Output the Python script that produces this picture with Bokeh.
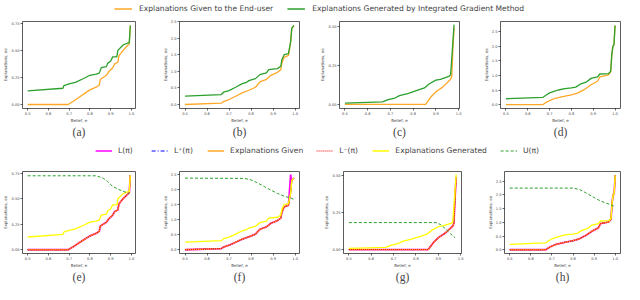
from bokeh.plotting import figure
from bokeh.models import (FixedTicker, NumeralTickFormatter, Title, Range1d,
                          Legend, LegendItem)
from bokeh.layouts import column, row
from bokeh.embed import file_html
from bokeh.resources import INLINE

# ---------------- data ----------------
xticks = [0.5, 0.6, 0.7, 0.8, 0.9, 1.0]

# panel A (a / e)
xa_gen = [0.5, 0.67, 0.675, 0.70, 0.73, 0.77, 0.80, 0.83, 0.845, 0.855, 0.88, 0.885, 0.90, 0.91, 0.93, 0.935, 0.96, 0.985, 0.99, 0.995]
ya_gen = [0.125, 0.15, 0.175, 0.19, 0.205, 0.24, 0.27, 0.28, 0.29, 0.34, 0.35, 0.38, 0.40, 0.44, 0.44, 0.50, 0.55, 0.57, 0.57, 0.73]
xa_giv = [0.5, 0.695, 0.72, 0.75, 0.78, 0.80, 0.83, 0.845, 0.85, 0.86, 0.88, 0.89, 0.91, 0.92, 0.935, 0.94, 0.96, 0.98, 0.99, 0.995]
ya_giv = [0.0, 0.0, 0.03, 0.07, 0.11, 0.135, 0.16, 0.18, 0.23, 0.245, 0.27, 0.30, 0.34, 0.375, 0.39, 0.45, 0.50, 0.54, 0.56, 0.73]
xa_U = [0.5, 0.83, 0.845, 0.865, 0.885, 0.91, 0.94, 0.965, 0.99]
ya_U = [0.725, 0.725, 0.715, 0.70, 0.67, 0.62, 0.59, 0.57, 0.55]

# panel B (b / f)
xb_gen = [0.5, 0.665, 0.675, 0.70, 0.73, 0.76, 0.78, 0.79, 0.82, 0.84, 0.87, 0.88, 0.92, 0.935, 0.94, 0.95, 0.97, 0.98, 0.985, 0.995]
yb_gen = [0.25, 0.30, 0.37, 0.42, 0.52, 0.63, 0.67, 0.72, 0.78, 0.90, 0.95, 1.05, 1.08, 1.15, 1.35, 1.50, 1.53, 1.90, 2.30, 2.38]
xb_giv = [0.5, 0.665, 0.675, 0.70, 0.73, 0.76, 0.79, 0.82, 0.84, 0.87, 0.89, 0.92, 0.935, 0.94, 0.95, 0.97, 0.98, 0.985, 0.995]
yb_giv = [0.0, 0.04, 0.09, 0.15, 0.25, 0.35, 0.43, 0.52, 0.68, 0.76, 0.88, 0.97, 1.05, 1.25, 1.42, 1.48, 1.90, 2.30, 2.38]
xb_L = [0.5, 0.665, 0.675, 0.70, 0.73, 0.76, 0.79, 0.82, 0.84, 0.87, 0.89, 0.92, 0.935, 0.94, 0.95, 0.97, 0.98, 0.982, 0.995]
yb_L = [0.0, 0.04, 0.09, 0.15, 0.25, 0.35, 0.43, 0.52, 0.68, 0.76, 0.88, 0.97, 1.05, 1.25, 1.42, 1.48, 2.50, 2.30, 2.38]
xb_U = [0.5, 0.77, 0.80, 0.83, 0.86, 0.89, 0.92, 0.95, 0.98, 0.995]
yb_U = [2.38, 2.37, 2.32, 2.22, 2.10, 1.98, 1.87, 1.78, 1.72, 1.67]

# panel C (c / g)
xc_gen = [0.5, 0.665, 0.69, 0.72, 0.74, 0.78, 0.82, 0.85, 0.87, 0.90, 0.92, 0.96, 0.965, 0.975, 0.98]
yc_gen = [0.008, 0.015, 0.03, 0.04, 0.055, 0.07, 0.09, 0.105, 0.13, 0.155, 0.16, 0.18, 0.19, 0.40, 0.51]
xc_giv = [0.5, 0.855, 0.88, 0.90, 0.93, 0.965, 0.97, 0.975, 0.98]
yc_giv = [0.0, 0.0, 0.05, 0.08, 0.11, 0.16, 0.18, 0.35, 0.49]
xc_U = [0.5, 0.89, 0.91, 0.933, 0.955, 0.975]
yc_U = [0.183, 0.183, 0.17, 0.14, 0.107, 0.08]

# panel D (d / h)
xd_gen = [0.5, 0.67, 0.685, 0.70, 0.72, 0.74, 0.77, 0.80, 0.82, 0.84, 0.87, 0.89, 0.92, 0.93, 0.97, 0.98, 0.985, 0.99, 0.995, 1.0]
yd_gen = [0.20, 0.25, 0.33, 0.40, 0.45, 0.50, 0.55, 0.57, 0.60, 0.70, 0.78, 0.90, 0.95, 1.05, 1.06, 1.15, 1.70, 2.00, 2.05, 2.72]
xd_giv = [0.5, 0.67, 0.69, 0.72, 0.76, 0.80, 0.83, 0.86, 0.89, 0.92, 0.93, 0.97, 0.98, 0.985, 0.99, 0.995, 1.0]
yd_giv = [0.0, 0.0, 0.10, 0.20, 0.27, 0.33, 0.40, 0.52, 0.68, 0.80, 0.95, 1.02, 1.12, 1.70, 2.00, 2.05, 2.72]
xd_U = [0.5, 0.80, 0.83, 0.86, 0.89, 0.92, 0.95, 0.98, 1.0]
yd_U = [2.25, 2.25, 2.20, 2.08, 1.95, 1.82, 1.72, 1.64, 1.57]

yticks_a = [0.0, 0.25, 0.5, 0.75]
yticks_b = [0.0, 0.5, 1.0, 1.5, 2.0, 2.5]
yticks_c = [0.0, 0.25, 0.5]
yticks_d = [0.0, 0.5, 1.0, 1.5, 2.0, 2.5]

legend1_labels = ["Explanations Given to the End-user",
                  "Explanations Generated by Integrated Gradient Method"]
legend2_labels = ["L(\u03c0)", "L\u207a(\u03c0)", "Explanations Given",
                  "L\u207b(\u03c0)", "Explanations Generated", "U(\u03c0)"]
captions = ["(a)", "(b)", "(c)", "(d)", "(e)", "(f)", "(g)", "(h)"]
x_label = "Belief, e"
y_label = "Explanations, ee"

ORANGE = "#FFA726"
GREEN = "#2ca02c"
YELLOW = "#FFFF00"
MAGENTA = "#FF00FF"
BLUE = "#0000FF"
RED = "#FF0000"


def panel(width, bl, br, bt, bb, xr, yr, yticks, yfmt, caption):
    p = figure(width=width, height=126, x_range=Range1d(*xr), y_range=Range1d(*yr),
               output_backend="svg", toolbar_location=None,
               min_border_left=bl, min_border_right=br,
               min_border_top=bt, min_border_bottom=bb)
    p.grid.visible = False
    p.outline_line_color = "#333333"
    p.outline_line_width = 0.8
    p.xaxis.ticker = FixedTicker(ticks=xticks)
    p.yaxis.ticker = FixedTicker(ticks=yticks)
    p.xaxis.formatter = NumeralTickFormatter(format="0.0")
    p.yaxis.formatter = NumeralTickFormatter(format=yfmt)
    for ax in (p.xaxis[0], p.yaxis[0]):
        ax.axis_line_color = None
        ax.minor_tick_line_color = None
        ax.major_tick_out = 2
        ax.major_tick_in = 0
        ax.major_tick_line_width = 0.6
        ax.major_label_text_font = "DejaVu Sans"
        ax.major_label_text_font_size = "3.6px"
        ax.major_label_standoff = 1
        ax.axis_label_text_font = "DejaVu Sans"
        ax.axis_label_text_font_size = "4px"
        ax.axis_label_text_font_style = "normal"
        ax.axis_label_standoff = 0
    p.xaxis.axis_label = x_label
    p.yaxis.axis_label = y_label
    p.add_layout(Title(text=caption, align="center", vertical_align="top",
                       text_font="Liberation Serif", text_font_size="11.5px",
                       text_font_style="normal", standoff=0), "below")
    return p


def top(p, xg, yg, xe, ye):
    p.line(xg, yg, color=ORANGE, line_width=1.3)
    p.line(xe, ye, color=GREEN, line_width=1.3)


def bottom(p, xL, yL, xg, yg, xe, ye, xu, yu):
    p.line(xL, yL, color=MAGENTA, line_width=1.8)
    p.line(xg, yg, color=BLUE, line_width=1.0, line_dash="4 2 1 2")
    p.line(xg, yg, color=ORANGE, line_width=1.3)
    p.line(xg, yg, color=RED, line_width=1.1, line_dash="1 1")
    p.line(xe, ye, color=YELLOW, line_width=1.3)
    p.line(xu, yu, color=GREEN, line_width=1.0, line_dash="3 2")


rng_a = ((0.475, 1.02), (-0.037, 0.767))
rng_b = ((0.475, 1.02), (-0.12, 2.5))
rng_f = ((0.475, 1.02), (-0.125, 2.6))
rng_c = ((0.476, 1.004), (-0.027, 0.53))
rng_d = ((0.475, 1.025), (-0.136, 2.856))

pa = panel(150, 15, 15, 5, 34, *rng_a, yticks_a, "0.00", captions[0])
pb = panel(165, 29, 16, 5, 34, *rng_b, yticks_b, "0.0", captions[1])
pc = panel(161, 24, 17, 5, 34, *rng_c, yticks_c, "0.00", captions[2])
pd = panel(148, 24, 4, 5, 34, *rng_d, yticks_d, "0.0", captions[3])
top(pa, xa_giv, ya_giv, xa_gen, ya_gen)
top(pb, xb_giv, yb_giv, xb_gen, yb_gen)
top(pc, xc_giv, yc_giv, xc_gen, yc_gen)
top(pd, xd_giv, yd_giv, xd_gen, yd_gen)

pe = panel(150, 15, 15, 13, 26, *rng_a, yticks_a, "0.00", captions[4])
pf = panel(165, 29, 16, 13, 26, *rng_f, yticks_b, "0.0", captions[5])
pg = panel(161, 28, 15, 13, 26, *rng_c, yticks_c, "0.00", captions[6])
ph = panel(148, 28, 4, 13, 26, *rng_d, yticks_d, "0.0", captions[7])
bottom(pe, xa_giv, ya_giv, xa_giv, ya_giv, xa_gen, ya_gen, xa_U, ya_U)
bottom(pf, xb_L, yb_L, xb_giv, yb_giv, xb_gen, yb_gen, xb_U, yb_U)
bottom(pg, xc_giv, yc_giv, xc_giv, yc_giv, xc_gen, yc_gen, xc_U, yc_U)
bottom(ph, xd_giv, yd_giv, xd_giv, yd_giv, xd_gen, yd_gen, xd_U, yd_U)


def legend_fig(specs, labels, glyph_w, standoff, spacing, shift):
    # the legend strip shows no data: its ranges lie outside every series
    f = figure(width=624, height=16, x_range=Range1d(5, 6), y_range=Range1d(5, 6),
               x_axis_type=None, y_axis_type=None, output_backend="svg",
               toolbar_location=None, min_border=0, min_border_left=shift,
               outline_line_color=None)
    items = []
    for (col, lw, dash), lab in zip(specs, labels):
        r = f.line(xa_giv, ya_giv, color=col, line_width=lw, line_dash=dash)
        items.append(LegendItem(label=lab, renderers=[r]))
    lg = Legend(items=items, orientation="horizontal", location="center",
                border_line_color=None, background_fill_alpha=0, padding=0,
                margin=0, glyph_width=glyph_w, glyph_height=8,
                label_standoff=standoff, spacing=spacing, label_height=8,
                label_text_font="DejaVu Sans", label_text_font_size="7.6px")
    f.add_layout(lg, "center")
    return f


leg1 = legend_fig([(ORANGE, 1.5, "solid"), (GREEN, 1.5, "solid")],
                  legend1_labels, 18, 7, 14, 12)
leg2 = legend_fig([(MAGENTA, 1.5, "solid"), (BLUE, 1.2, "4 2 1 2"),
                   (ORANGE, 1.5, "solid"), (RED, 1.2, "1 1"),
                   (YELLOW, 1.5, "solid"), (GREEN, 1.2, "3 2")],
                  legend2_labels, 17, 6, 13, 14)

layout = column(leg1, row(pa, pb, pc, pd), leg2, row(pe, pf, pg, ph))

with open("out.html", "w") as fh:
    fh.write(file_html(layout, INLINE))
